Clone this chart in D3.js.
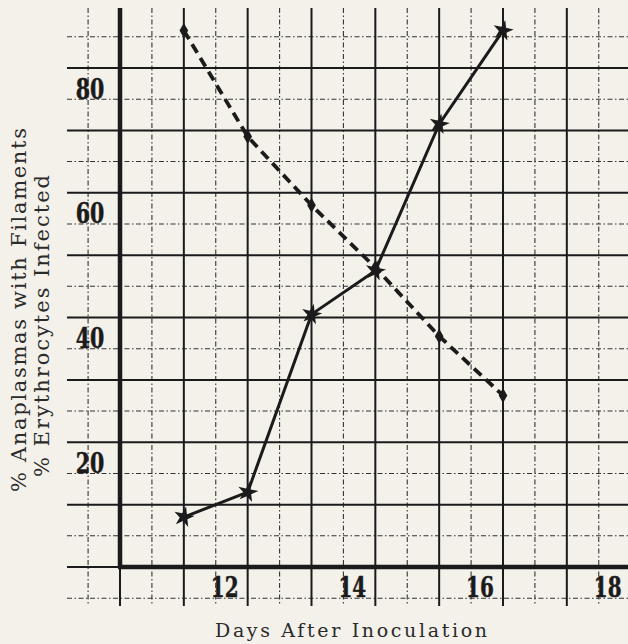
<!DOCTYPE html>
<html>
<head>
<meta charset="utf-8">
<script src="https://cdn.jsdelivr.net/npm/d3@7"></script>
<style>
    body { margin: 0; background: #f3f1ea; }
    svg { display: block; }
</style>
</head>
<body>
<div id="chart"></div>
<script>
// values
const days = [11, 12, 13, 14, 15, 16];
const filaments = [86, 69, 58, 48, 37, 27.5];   // dashed line
const infected = [8, 12, 40.5, 47.5, 71, 86];    // solid line

const xTickValues = [12, 14, 16, 18];
const yTickValues = [20, 40, 60, 80];

// graph paper rulings
const majorDays = d3.range(10, 18, 1);
const minorDays = d3.range(9.5, 18, 1);
const majorPct = d3.range(0, 90, 10);
const minorPct = d3.range(-5, 90, 10);

const width = 628;
const height = 644;

const x = d3.scaleLinear().domain([10, 16]).range([120, 503]);
const y = d3.scaleLinear().domain([0, 80]).range([567, 68]);

const gridLeft = 67, gridRight = 628, gridTop = 8, gridBottom = 606;
const ink = "#1b1b1b";

const svg = d3.select("#chart")
    .append("svg")
    .attr("width", width)
    .attr("height", height)
    .attr("viewBox", `0 0 ${width} ${height}`);

svg.append("rect")
    .attr("width", width)
    .attr("height", height)
    .attr("fill", "#f3f1ea");

// minor rulings (broken lines)
const minor = svg.append("g")
    .attr("stroke", "#333")
    .attr("stroke-width", 1.1)
    .attr("stroke-dasharray", "5,2.5,1.5,2.5");

minor.selectAll("line.v")
    .data(minorDays)
    .join("line")
    .attr("class", "v")
    .attr("x1", d => x(d)).attr("x2", d => x(d))
    .attr("y1", gridTop).attr("y2", gridBottom);

minor.selectAll("line.h")
    .data(minorPct)
    .join("line")
    .attr("class", "h")
    .attr("y1", d => y(d)).attr("y2", d => y(d))
    .attr("x1", gridLeft).attr("x2", gridRight);

// major rulings
const major = svg.append("g")
    .attr("stroke", ink)
    .attr("stroke-width", 2);

major.selectAll("line.v")
    .data(majorDays)
    .join("line")
    .attr("class", "v")
    .attr("x1", d => x(d)).attr("x2", d => x(d))
    .attr("y1", gridTop).attr("y2", gridBottom);

major.selectAll("line.h")
    .data(majorPct)
    .join("line")
    .attr("class", "h")
    .attr("y1", d => y(d)).attr("y2", d => y(d))
    .attr("x1", gridLeft).attr("x2", gridRight);

// heavy axes
svg.append("line")
    .attr("x1", x(10)).attr("x2", x(10))
    .attr("y1", gridTop).attr("y2", y(0))
    .attr("stroke", ink).attr("stroke-width", 4.5);

svg.append("line")
    .attr("x1", x(10) - 2).attr("x2", gridRight)
    .attr("y1", y(0)).attr("y2", y(0))
    .attr("stroke", ink).attr("stroke-width", 4.5);

// tick labels (typed on the paper, just left of / below their rulings)
// narrowed with a horizontal scale to look like the typewriter digits
const tickFont = "'DejaVu Serif', serif";

svg.append("g")
    .selectAll("text")
    .data(yTickValues)
    .join("text")
    .attr("transform", d => `translate(90,${y(d) + 21}) scale(0.76,1)`)
    .attr("text-anchor", "middle")
    .attr("dominant-baseline", "central")
    .attr("font-family", tickFont)
    .attr("font-weight", "bold")
    .attr("font-size", 27)
    .attr("fill", ink)
    .attr("stroke", ink)
    .attr("stroke-width", 0.5)
    .text(d => d);

svg.append("g")
    .selectAll("text")
    .data(xTickValues)
    .join("text")
    .attr("transform", d => `translate(${x(d) - 23},588) scale(0.74,1)`)
    .attr("text-anchor", "middle")
    .attr("dominant-baseline", "central")
    .attr("font-family", tickFont)
    .attr("font-weight", "bold")
    .attr("font-size", 27)
    .attr("fill", ink)
    .attr("stroke", ink)
    .attr("stroke-width", 0.5)
    .text(d => d);

// axis titles
const titleFont = "'DejaVu Serif', serif";

svg.append("text")
    .attr("transform", "translate(26,310) rotate(-90)")
    .attr("text-anchor", "middle")
    .attr("font-family", titleFont)
    .attr("font-size", 21)
    .attr("textLength", 364)
    .attr("lengthAdjust", "spacing")
    .attr("fill", "#2a2a2a")
    .text("% Anaplasmas with Filaments");

svg.append("text")
    .attr("transform", "translate(49,326) rotate(-90)")
    .attr("text-anchor", "middle")
    .attr("font-family", titleFont)
    .attr("font-size", 21)
    .attr("textLength", 302)
    .attr("lengthAdjust", "spacing")
    .attr("fill", "#2a2a2a")
    .text("% Erythrocytes Infected");

svg.append("text")
    .attr("x", 351)
    .attr("y", 637)
    .attr("text-anchor", "middle")
    .attr("font-family", titleFont)
    .attr("font-size", 19)
    .attr("textLength", 272)
    .attr("lengthAdjust", "spacing")
    .attr("fill", "#2a2a2a")
    .text("Days After Inoculation");

// data lines
const line = d3.line()
    .x((d, i) => x(days[i]))
    .y(d => y(d));

svg.append("path")
    .datum(filaments)
    .attr("d", line)
    .attr("fill", "none")
    .attr("stroke", ink)
    .attr("stroke-width", 3.8)
    .attr("stroke-dasharray", "10,6");

svg.append("path")
    .datum(infected)
    .attr("d", line)
    .attr("fill", "none")
    .attr("stroke", ink)
    .attr("stroke-width", 3);

svg.append("g")
    .selectAll("path")
    .data(filaments)
    .join("path")
    .attr("transform", (d, i) => `translate(${x(days[i])},${y(d)})`)
    .attr("d", d3.symbol(d3.symbolDiamond, 65))
    .attr("fill", ink);

svg.append("g")
    .selectAll("path")
    .data(infected)
    .join("path")
    .attr("transform", (d, i) => `translate(${x(days[i])},${y(d)}) rotate(12)`)
    .attr("d", d3.symbol(d3.symbolStar, 130))
    .attr("fill", ink);
</script>
</body>
</html>
